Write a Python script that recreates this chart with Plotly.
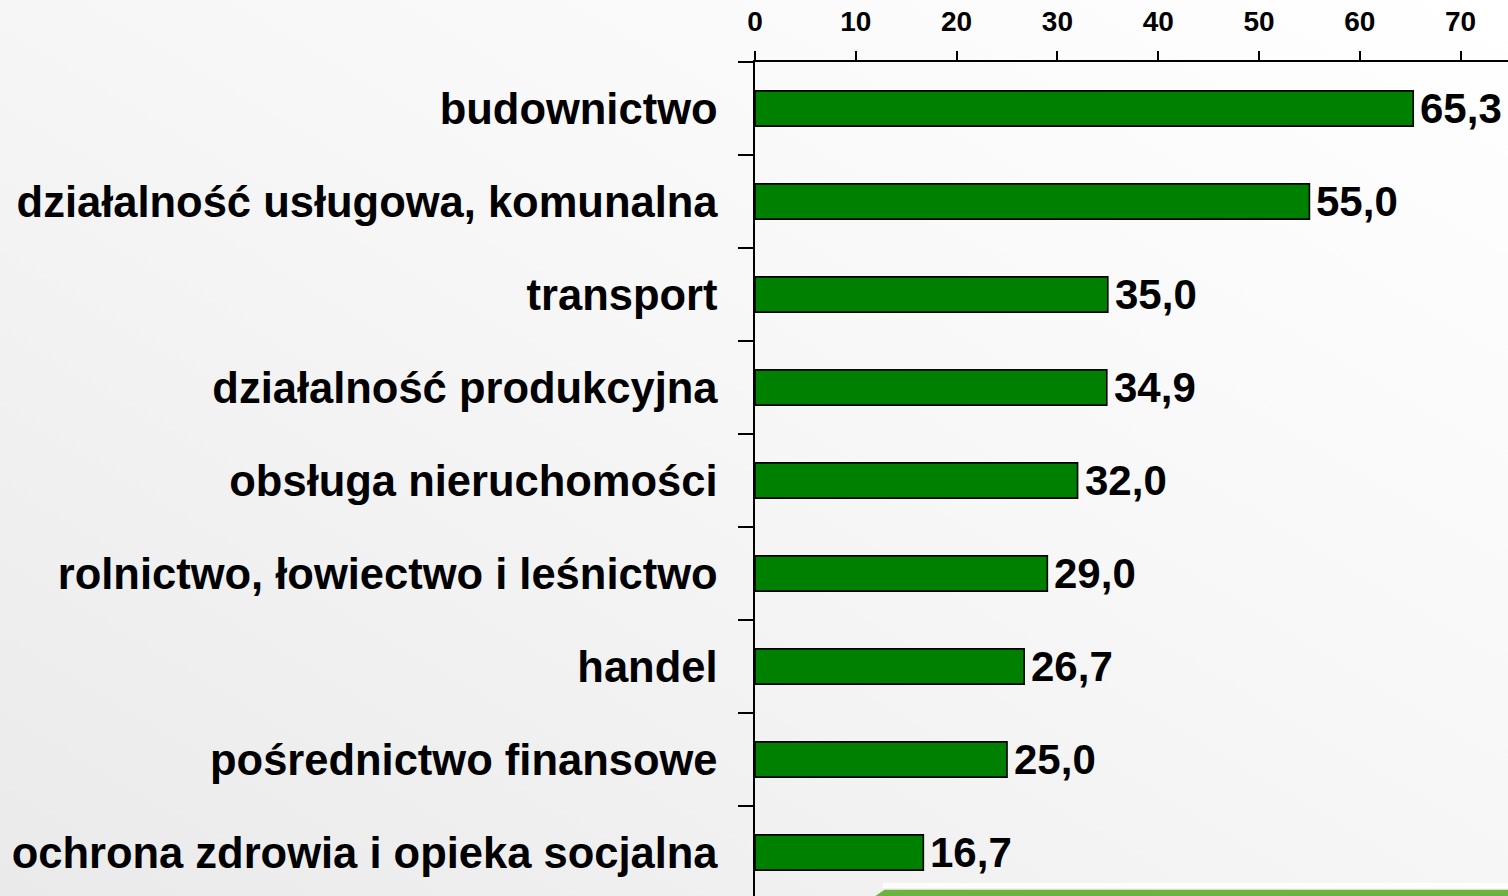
import base64
import plotly.graph_objects as go

# kategorie od dołu do góry
categories = [
    "ochrona zdrowia i opieka socjalna",
    "pośrednictwo finansowe",
    "handel",
    "rolnictwo, łowiectwo i leśnictwo",
    "obsługa nieruchomości",
    "działalność produkcyjna",
    "transport",
    "działalność usługowa, komunalna",
    "budownictwo",
]
values = [16.7, 25.0, 26.7, 29.0, 32.0, 34.9, 35.0, 55.0, 65.3]
x_ticks = [0, 10, 20, 30, 40, 50, 60, 70]

FONT = "Liberation Sans, Arial, sans-serif"
W, H = 1508, 896
L, T = 755, 62
PW, PH = W - L, H - T

fig = go.Figure()
fig.add_trace(go.Bar(
    x=values,
    y=categories,
    orientation="h",
    width=0.38,
    marker=dict(color="#008000", line=dict(color="black", width=1.6)),
    hoverinfo="skip",
))

# etykiety wartości z przecinkiem dziesiętnym
for cat, val in zip(categories, values):
    fig.add_annotation(
        x=val, y=cat, text=f"{val:.1f}".replace(".", ","),
        xanchor="left", yanchor="middle", xshift=5, showarrow=False,
        font=dict(family=FONT, size=42, color="black", weight="bold"),
    )

# tło slajdu - delikatny gradient
svg = (
    '<svg xmlns="http://www.w3.org/2000/svg" width="1508" height="896">'
    '<defs><linearGradient id="g" x1="0" y1="1" x2="1" y2="0">'
    '<stop offset="0" stop-color="#eaeaea"/>'
    '<stop offset="0.55" stop-color="#f7f7f7"/>'
    '<stop offset="1" stop-color="#ffffff"/>'
    '</linearGradient></defs>'
    '<rect width="1508" height="896" fill="url(#g)"/></svg>'
)
bg = "data:image/svg+xml;base64," + base64.b64encode(svg.encode()).decode()
fig.add_layout_image(
    source=bg, xref="paper", yref="paper",
    x=-L / PW, y=1 + T / PH, sizex=W / PW, sizey=H / PH,
    xanchor="left", yanchor="top", sizing="stretch", layer="below",
)

fig.update_layout(
    width=W,
    height=H,
    margin=dict(l=L, r=0, t=T, b=0),
    paper_bgcolor="#f4f4f4",
    plot_bgcolor="rgba(0,0,0,0)",
    showlegend=False,
    font=dict(family=FONT, color="black"),
    xaxis=dict(
        side="top",
        range=[0, 74.7],
        tickvals=x_ticks,
        ticks="outside",
        ticklen=9,
        tickwidth=1.5,
        tickcolor="black",
        showline=True,
        linecolor="black",
        linewidth=1.5,
        showgrid=False,
        zeroline=False,
        ticklabelstandoff=9,
        tickfont=dict(family=FONT, size=28, color="black", weight="bold"),
    ),
    yaxis=dict(
        type="category",
        categoryorder="array",
        categoryarray=categories,
        range=[8.5 - PH / 93, 8.5],
        tickson="boundaries",
        ticks="outside",
        ticklen=15,
        tickwidth=1.5,
        tickcolor="black",
        showline=True,
        linecolor="black",
        linewidth=1.5,
        showgrid=False,
        zeroline=False,
        ticklabelstandoff=27,
        tickfont=dict(family=FONT, size=43.5, color="black", weight="bold"),
    ),
)

# zielony pasek dekoracyjny w prawym dolnym rogu slajdu
fig.add_shape(
    type="path",
    xref="paper", yref="paper",
    path="M 0.16 0 L 0.172 0.0075 L 1.0 0.0075 L 1.0 0 Z",
    fillcolor="#6db33f",
    line=dict(width=0),
    layer="above",
)
fig.add_shape(
    type="rect",
    xref="paper", yref="paper",
    x0=0.17, x1=1.0, y0=0.0095, y1=0.016,
    fillcolor="rgba(255,255,255,0.8)",
    line=dict(width=0),
    layer="below",
)

fig.write_html(
    "out.html",
    config={"displayModeBar": False},
    post_script="document.body.style.margin='0';",
)
